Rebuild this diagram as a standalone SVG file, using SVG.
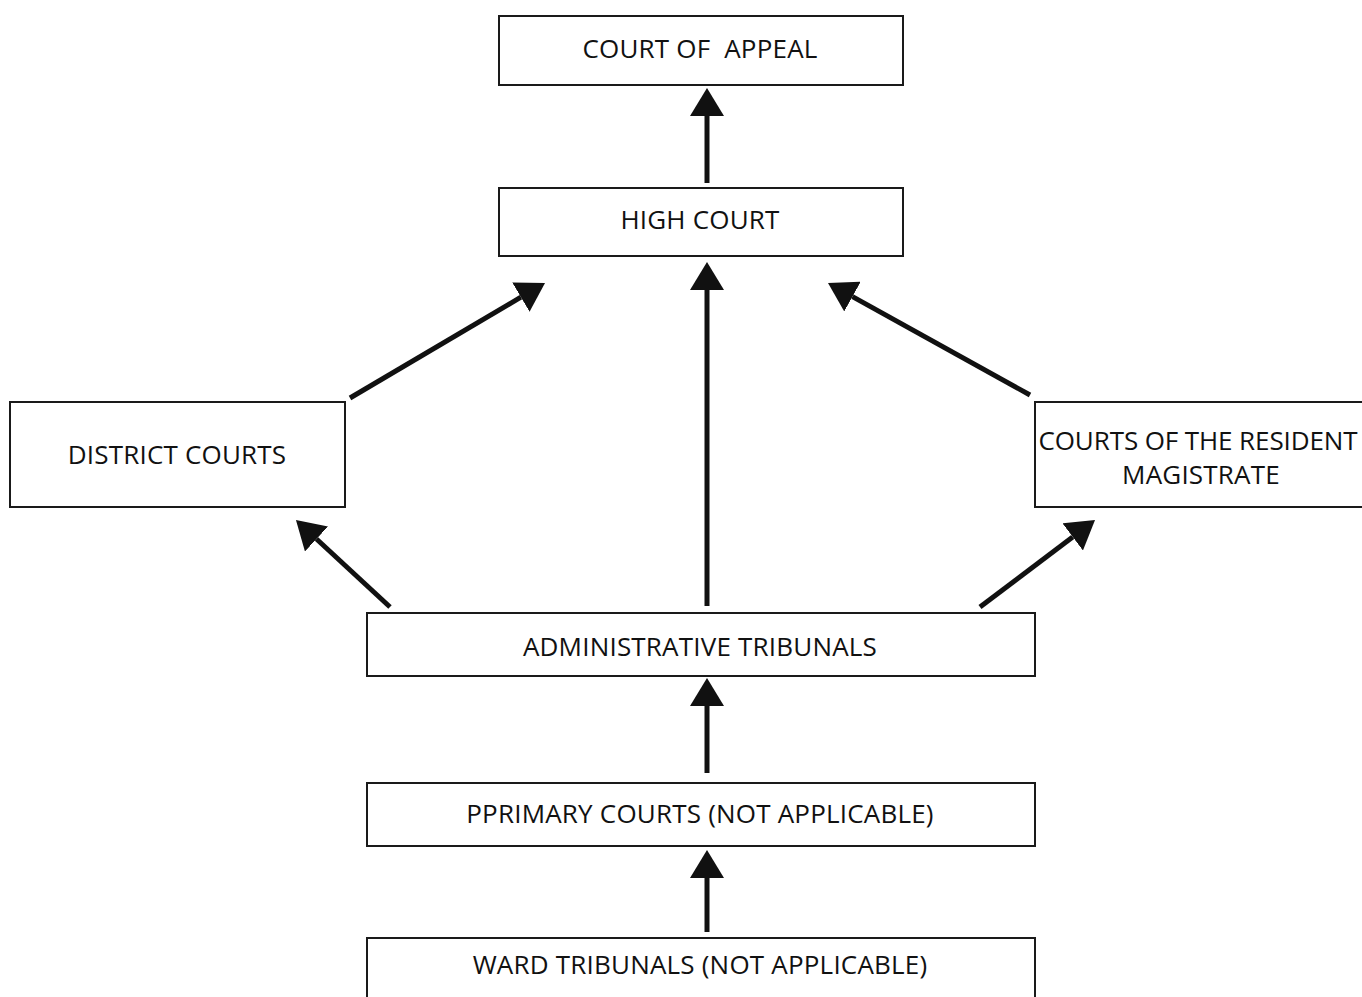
<svg xmlns="http://www.w3.org/2000/svg" width="1362" height="997" viewBox="0 0 1362 997">
<style>
.box{fill:#fff;stroke:#1a1a1a;stroke-width:2}
.lbl{font-family:"Open Sans","Liberation Sans",sans-serif;font-size:26px;fill:#111;text-anchor:middle;letter-spacing:0.2px}
.tight{letter-spacing:-0.1px}
.arr{stroke:#111;stroke-width:5;fill:none;marker-end:url(#head)}
</style>
<defs>
<marker id="head" viewBox="0 0 28 34" refX="0" refY="17" markerWidth="28" markerHeight="34" markerUnits="userSpaceOnUse" orient="auto">
<path d="M0,0 L28,17 L0,34 z" fill="#111"/>
</marker>
</defs>
<rect width="1362" height="997" fill="#fff"/>
<g id="connectors">
<line class="arr" x1="707" y1="183" x2="707" y2="116"/>
<line class="arr" x1="707" y1="606" x2="707" y2="290"/>
<line class="arr" x1="350" y1="398" x2="520.9" y2="297.2"/>
<line class="arr" x1="1030" y1="395" x2="852.5" y2="296.6"/>
<line class="arr" x1="390" y1="607" x2="316.5" y2="539"/>
<line class="arr" x1="980" y1="607" x2="1072.7" y2="536.9"/>
<line class="arr" x1="707" y1="773" x2="707" y2="706"/>
<line class="arr" x1="707" y1="932" x2="707" y2="878"/>
</g>
<g id="court-of-appeal"><rect class="box" x="499" y="16" width="404" height="69"/><text class="lbl" x="700" y="58" xml:space="preserve">COURT OF  APPEAL</text></g>
<g id="high-court"><rect class="box" x="499" y="188" width="404" height="68"/><text class="lbl" x="700" y="229">HIGH COURT</text></g>
<g id="district-courts"><rect class="box" x="10" y="402" width="335" height="105"/><text class="lbl" x="177" y="464">DISTRICT COURTS</text></g>
<g id="resident-magistrate"><rect class="box" x="1035" y="402" width="340" height="105"/><text class="lbl tight" x="1198" y="450">COURTS OF THE RESIDENT</text><text class="lbl" x="1201" y="484">MAGISTRATE</text></g>
<g id="administrative-tribunals"><rect class="box" x="367" y="613" width="668" height="63"/><text class="lbl" x="700" y="656">ADMINISTRATIVE TRIBUNALS</text></g>
<g id="primary-courts"><rect class="box" x="367" y="783" width="668" height="63"/><text class="lbl" x="700" y="823">PPRIMARY COURTS (NOT APPLICABLE)</text></g>
<g id="ward-tribunals"><rect class="box" x="367" y="938" width="668" height="80"/><text class="lbl" x="700" y="974">WARD TRIBUNALS (NOT APPLICABLE)</text></g>
</svg>
